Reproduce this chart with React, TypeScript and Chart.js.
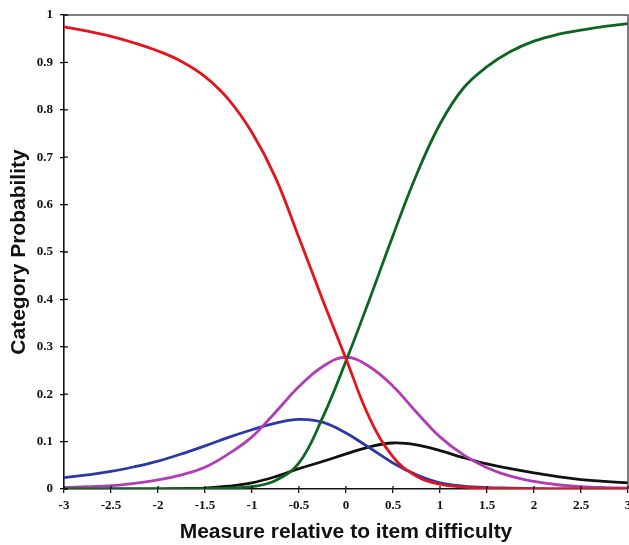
import React, { useEffect, useRef } from "react";
import { Chart, registerables } from "chart.js";

Chart.register(...registerables);

const xValues = [
  -3, -2.75, -2.5, -2.25, -2, -1.75, -1.5, -1.25, -1, -0.75, -0.5, -0.25, 0,
  0.25, 0.5, 0.75, 1, 1.25, 1.5, 1.75, 2, 2.25, 2.5, 2.75, 3,
];

const category0Red = [
  0.975, 0.966, 0.955, 0.941, 0.924, 0.902, 0.87, 0.822, 0.752, 0.657, 0.53, 0.4, 0.275,
  0.15, 0.068, 0.027, 0.01, 0.004, 0.002, 0.001, 0, 0, 0, 0, 0,
];

const category1Blue = [
  0.024, 0.03, 0.037, 0.047, 0.059, 0.074, 0.091, 0.109, 0.125, 0.139, 0.147, 0.141, 0.118,
  0.087, 0.055, 0.03, 0.013, 0.006, 0.003, 0.002, 0.001, 0, 0, 0, 0,
];

const category2Magenta = [
  0.003, 0.005, 0.007, 0.012, 0.019, 0.03, 0.046, 0.074, 0.11, 0.162, 0.216, 0.258, 0.278,
  0.258, 0.217, 0.162, 0.11, 0.072, 0.045, 0.027, 0.016, 0.009, 0.005, 0.003, 0.002,
];

const category3Black = [
  0, 0, 0, 0, 0, 0.001, 0.002, 0.006, 0.013, 0.026, 0.043, 0.058, 0.074,
  0.089, 0.097, 0.093, 0.081, 0.066, 0.053, 0.043, 0.034, 0.026, 0.02, 0.016, 0.013,
];

const category4Green = [
  0, 0, 0, 0, 0, 0, 0.001, 0.002, 0.005, 0.018, 0.055, 0.15, 0.27,
  0.4, 0.535, 0.663, 0.77, 0.846, 0.891, 0.923, 0.945, 0.959, 0.968, 0.976, 0.982,
];

const yTickLabels = ["0", "0.1", "0.2", "0.3", "0.4", "0.5", "0.6", "0.7", "0.8", "0.9", "1"];
const xTickLabels = ["-3", "-2.5", "-2", "-1.5", "-1", "-0.5", "0", "0.5", "1", "1.5", "2", "2.5", "3"];

const xTitle = "Measure relative to item difficulty";
const yTitle = "Category Probability";

const serif = "'Liberation Serif', 'Times New Roman', serif";
const sans = "'Liberation Sans', Arial, sans-serif";

const framePlugin = {
  id: "framePlugin",
  afterDatasetsDraw(chart: any) {
    const { ctx, chartArea } = chart;
    const { left, right, top, bottom } = chartArea;
    ctx.save();
    ctx.strokeStyle = "#555";
    ctx.lineWidth = 1.5;
    ctx.beginPath();
    ctx.moveTo(left, top);
    ctx.lineTo(right, top);
    ctx.lineTo(right, bottom);
    ctx.stroke();
    ctx.strokeStyle = "#111";
    ctx.lineWidth = 1.3;
    const ys = chart.scales.y;
    const xs = chart.scales.x;
    ctx.beginPath();
    ys.ticks.forEach((t: any) => {
      const py = ys.getPixelForValue(t.value);
      ctx.moveTo(left, py);
      ctx.lineTo(left + 4, py);
    });
    xs.ticks.forEach((t: any) => {
      const px = xs.getPixelForValue(t.value);
      ctx.moveTo(px, bottom);
      ctx.lineTo(px, bottom - 3);
    });
    ctx.stroke();
    ctx.restore();
  },
};

function makeSeries(values: number[]) {
  return xValues.map((x, i) => ({ x, y: values[i] }));
}

export default function App() {
  const canvasRef = useRef<HTMLCanvasElement | null>(null);

  useEffect(() => {
    if (!canvasRef.current) return;
    const common = {
      pointRadius: 0,
      borderWidth: 2.8,
      tension: 0.4,
      fill: false,
    };
    const chart = new Chart(canvasRef.current, {
      type: "line",
      data: {
        datasets: [
          { label: "0", data: makeSeries(category0Red), borderColor: "#e5131b", ...common },
          { label: "4", data: makeSeries(category4Green), borderColor: "#0d6520", ...common },
          { label: "2", data: makeSeries(category2Magenta), borderColor: "#b23cb4", ...common },
          { label: "1", data: makeSeries(category1Blue), borderColor: "#2a39a6", ...common },
          { label: "3", data: makeSeries(category3Black), borderColor: "#111111", ...common },
        ],
      },
      options: {
        responsive: false,
        animation: false,
        layout: { padding: { top: 15, right: 1, left: 0, bottom: 0 } },
        plugins: {
          legend: { display: false },
          tooltip: { enabled: false },
        },
        scales: {
          x: {
            type: "linear",
            min: -3,
            max: 3,
            afterFit: (scale: any) => {
              scale.height = 56;
              scale.paddingRight = 0;
              scale.paddingLeft = 0;
            },
            ticks: {
              stepSize: 0.5,
              autoSkip: false,
              maxRotation: 0,
              padding: 5,
              color: "#111",
              font: { family: serif, size: 13, weight: "bold" },
              callback: (v: any) => {
                const i = Math.round((Number(v) + 3) * 2);
                return xTickLabels[i] ?? "";
              },
            },
            grid: { drawOnChartArea: false, tickLength: 4, color: "#111", lineWidth: 1.3 },
            border: { color: "#111", width: 1.6 },
            title: {
              display: true,
              text: xTitle,
              color: "#111",
              font: { family: sans, size: 21, weight: "bold" },
              padding: { top: 0, bottom: 0 },
            },
          },
          y: {
            type: "linear",
            min: 0,
            max: 1,
            afterFit: (scale: any) => {
              scale.width = 64;
            },
            ticks: {
              stepSize: 0.1,
              padding: 7,
              color: "#111",
              font: { family: serif, size: 13, weight: "bold" },
              callback: (v: any) => {
                const i = Math.round(Number(v) * 10);
                return yTickLabels[i] ?? "";
              },
            },
            grid: { drawOnChartArea: false, tickLength: 4, color: "#111", lineWidth: 1.3 },
            border: { color: "#111", width: 1.6 },
            title: {
              display: true,
              text: yTitle,
              color: "#111",
              font: { family: sans, size: 21, weight: "bold" },
              padding: { top: 7, bottom: 0 },
            },
          },
        },
      },
      plugins: [framePlugin],
    });
    return () => chart.destroy();
  }, []);

  return (
    <div style={{ position: "fixed", left: 0, top: 0, width: 629, height: 545, background: "#fff" }}>
      <canvas ref={canvasRef} width={629} height={545} style={{ display: "block" }} />
    </div>
  );
}
